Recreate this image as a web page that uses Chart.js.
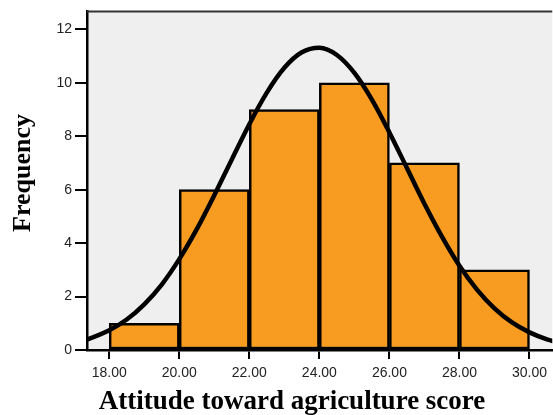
<!DOCTYPE html>
<html>
<head>
<meta charset="utf-8">
<script src="https://cdn.jsdelivr.net/npm/chart.js@4.4.1/dist/chart.umd.min.js"></script>
<style>
html, body { margin: 0; padding: 0; background: #fff; }
#wrap { width: 553px; height: 415px; }
</style>
</head>
<body>
<div id="wrap"><canvas id="histChart" width="553" height="415"></canvas></div>
<script>
// histogram bins (lower edge) and frequencies
const binStarts = [18, 20, 22, 24, 26, 28];
const binCounts = [1, 6, 9, 10, 7, 3];
const binWidth = 2;

// normal curve
const curveX = [17.2, 17.4, 18, 18.5, 19, 19.5, 20, 20.5, 21, 21.5, 22, 22.5, 23, 23.5, 24, 24.5, 25, 25.5, 26, 26.5, 27, 27.5, 28, 28.5, 29, 29.5, 30, 30.5, 30.8];
const curveY = [0.33, 0.41, 0.74, 1.14, 1.71, 2.45, 3.40, 4.52, 5.79, 7.13, 8.45, 9.63, 10.56, 11.14, 11.31, 11.04, 10.37, 9.37, 8.14, 6.81, 5.47, 4.24, 3.15, 2.26, 1.56, 1.03, 0.66, 0.40, 0.29];

const xTicks = [18, 20, 22, 24, 26, 28, 30];
const yTicks = [0, 2, 4, 6, 8, 10, 12];
const xTitle = 'Attitude toward agriculture score';
const yTitle = 'Frequency';

const bars = binStarts.map((s, i) => ({ x: s + binWidth / 2, y: binCounts[i] }));
const curve = curveX.map((x, i) => ({ x: x, y: curveY[i] }));

const plotFrame = {
    id: 'plotFrame',
    beforeDraw(chart) {
        const { ctx, chartArea: a } = chart;
        ctx.save();
        ctx.fillStyle = '#efefef';
        ctx.fillRect(a.left, a.top, a.right - a.left, a.bottom - a.top);
        ctx.restore();
    },
    afterDraw(chart) {
        const { ctx, chartArea: a } = chart;
        ctx.save();
        ctx.strokeStyle = '#333333';
        ctx.lineWidth = 2;
        ctx.beginPath();
        ctx.moveTo(a.left, a.top);
        ctx.lineTo(a.right, a.top);
        ctx.stroke();
        // titles sit a bit off the plot centre in the original
        ctx.fillStyle = '#000';
        ctx.textAlign = 'center';
        ctx.font = 'bold 27px "Liberation Serif"';
        ctx.textBaseline = 'alphabetic';
        ctx.fillText(xTitle, 292, 409);
        ctx.translate(23, 173);
        ctx.rotate(-Math.PI / 2);
        ctx.font = 'bold 26px "Liberation Serif"';
        ctx.textBaseline = 'middle';
        ctx.fillText(yTitle, 0, 0);
        ctx.restore();
    }
};

const tickFont = { family: '"Liberation Sans", Arial, sans-serif', size: 14 };

const ctx = document.getElementById('histChart').getContext('2d');
new Chart(ctx, {
    type: 'bar',
    data: {
        datasets: [{
            type: 'line',
            data: curve,
            borderColor: '#000',
            borderWidth: 4.5,
            pointRadius: 0,
            fill: false,
            cubicInterpolationMode: 'monotone',
            clip: 0,
            order: 0
        }, {
            type: 'bar',
            data: bars,
            backgroundColor: '#F79B21',
            borderColor: '#000',
            borderWidth: 2.5,
            borderSkipped: false,
            barPercentage: 1,
            categoryPercentage: 1,
            grouped: false,
            order: 1
        }]
    },
    options: {
        responsive: false,
        animation: false,
        layout: { padding: { top: 11, right: 0, left: 0, bottom: 0 } },
        plugins: {
            legend: { display: false },
            tooltip: { enabled: false }
        },
        scales: {
            x: {
                type: 'linear',
                min: 17.365,
                max: 30.65,
                offset: false,
                afterBuildTicks: (scale) => { scale.ticks = xTicks.map(v => ({ value: v })); },
                afterFit: (scale) => { scale.height = 65; },
                grid: { display: true, drawOnChartArea: false, drawTicks: true, tickLength: 9, color: '#000', lineWidth: 2, offset: false },
                border: { display: true, color: '#000', width: 2.5 },
                ticks: {
                    color: '#222',
                    font: tickFont,
                    padding: 6,
                    maxRotation: 0,
                    callback: (v) => Number(v).toFixed(2)
                }
            },
            y: {
                min: 0,
                max: 12.67,
                afterBuildTicks: (scale) => { scale.ticks = yTicks.map(v => ({ value: v })); },
                afterFit: (scale) => { scale.width = 87; },
                grid: { display: true, drawOnChartArea: false, drawTicks: true, tickLength: 12, color: '#000', lineWidth: 2 },
                border: { display: true, color: '#000', width: 2.5 },
                ticks: { color: '#222', font: tickFont, padding: 3 }
            }
        }
    },
    plugins: [plotFrame]
});
</script>
</body>
</html>
